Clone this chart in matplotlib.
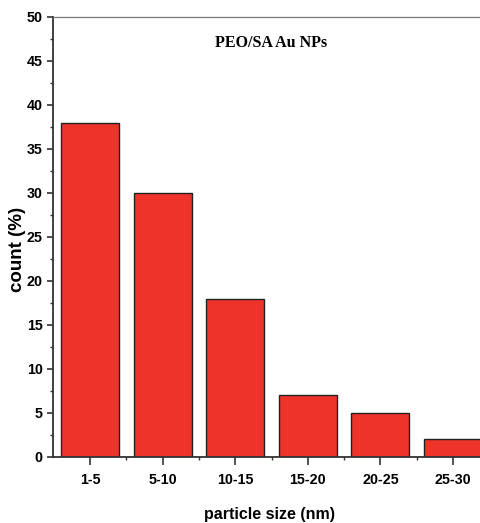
import matplotlib
matplotlib.use("Agg")
import matplotlib.pyplot as plt
from matplotlib.ticker import MultipleLocator, FixedLocator
import numpy as np

categories = ["1-5", "5-10", "10-15", "15-20", "20-25", "25-30"]
counts = [38, 30, 18, 7, 5, 2]

W, H = 481, 523
fig = plt.figure(figsize=(W/100, H/100), dpi=100)
left, right, top, bottom = 53, 490, 17, 457
ax = fig.add_axes([left/W, 1 - bottom/H, (right-left)/W, (bottom-top)/H])

x = np.arange(len(categories))
ax.bar(x, counts, width=0.8, color="#ee332a", edgecolor="#222222", linewidth=1.0, zorder=2)

ax.set_xlim(-0.51, len(categories) - 0.49)
ax.set_ylim(0, 50)
ax.set_xticks(x)
ax.set_xticklabels(categories)
ax.xaxis.set_minor_locator(FixedLocator(x[:-1] + 0.5))
ax.yaxis.set_major_locator(MultipleLocator(5))
ax.yaxis.set_minor_locator(MultipleLocator(2.5))

tickfont = ["Liberation Sans", "DejaVu Sans"]
for lab in ax.get_xticklabels() + ax.get_yticklabels():
    lab.set_family(tickfont)
    lab.set_fontweight("bold")
    lab.set_fontsize(10.3)

ax.tick_params(axis="both", which="major", direction="out", length=4.3, width=1.2, color="#333333", pad=3)
ax.tick_params(axis="both", which="minor", direction="out", length=2.5, width=1.0, color="#333333")
ax.tick_params(axis="x", which="major", length=5.8, pad=6)

for s in ["left", "bottom"]:
    ax.spines[s].set_linewidth(1.3)
    ax.spines[s].set_color("#333333")
ax.spines["top"].set_linewidth(0.9)
ax.spines["top"].set_color("#777777")
ax.spines["right"].set_visible(False)

fig.text(17/W, 1 - 249/H, "count (%)", rotation=90, ha="center", va="center",
         family=tickfont, fontweight="bold", fontsize=13.5)
fig.text(270/W, 1 - 507/H, "particle size (nm)", ha="center", va="top",
         family=tickfont, fontweight="bold", fontsize=11.5)

ax.text(0.5, (bottom - 43) / (bottom - top), "PEO/SA Au NPs", transform=ax.transAxes, ha="center", va="center",
        family=["Liberation Serif", "DejaVu Serif"], fontweight="bold", fontsize=11.5)

fig.savefig("out.png", dpi=100)
